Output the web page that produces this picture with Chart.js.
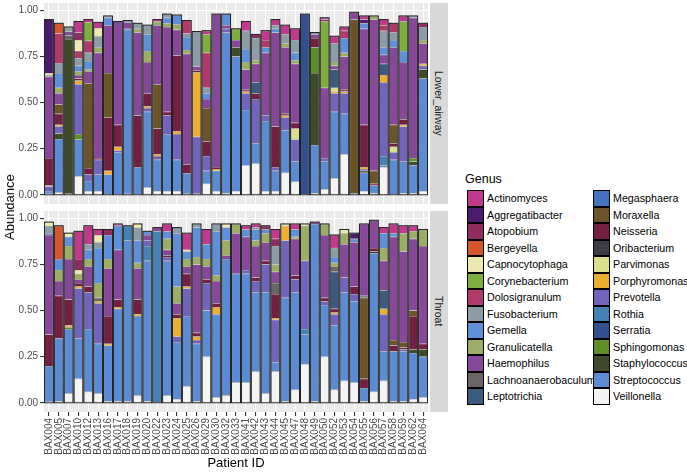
<!DOCTYPE html>
<html>
<head>
<meta charset="utf-8">
<script src="https://cdn.jsdelivr.net/npm/chart.js@4.4.1/dist/chart.umd.min.js"></script>
<style>
  body { margin: 0; width: 687px; height: 474px; background: #fff; position: relative; overflow: hidden;
         font-family: "Liberation Sans", Arial, sans-serif; }
  .box { position: absolute; }
  .strip { position: absolute; left: 430px; width: 18px; background: #D9D9D9; writing-mode: vertical-rl;
           display: flex; align-items: center; justify-content: center; font-size: 10.5px; color: #1A1A1A; }
  .ytitle { position: absolute; left: 2px; top: 3px; width: 16px; height: 409px; writing-mode: vertical-rl;
            transform: rotate(180deg); display: flex; align-items: center; justify-content: center;
            font-size: 13px; color: #000; }
  .xtitle { position: absolute; left: 44px; width: 384px; top: 455px; text-align: center; font-size: 13px; color: #000; }
  .legend-title { position: absolute; left: 465px; top: 172px; font-size: 12.5px; color: #000; }
  .key { position: absolute; width: 17px; height: 16.5px; box-sizing: border-box; border: 1.3px solid #000; }
  .lab { position: absolute; font-size: 10.7px; color: #000; line-height: 16.5px; white-space: nowrap; }
</style>
</head>
<body>
<div class="box" style="left:0;top:0"><canvas id="laChart" width="428" height="205"></canvas></div>
<div class="box" style="left:0;top:207px"><canvas id="thChart" width="428" height="267"></canvas></div>
<div class="strip" style="top:3px;height:201px">Lower_airway</div>
<div class="strip" style="top:211px;height:201px">Throat</div>
<div class="ytitle">Abundance</div>
<div class="xtitle">Patient ID</div>
<div class="legend-title">Genus</div>
<div id="legend"></div>

<script>
// Patients on the x axis
const patients = ['BAX004', 'BAX005', 'BAX007', 'BAX010', 'BAX012', 'BAX013', 'BAX016', 'BAX017', 'BAX018', 'BAX019',
    'BAX020', 'BAX022', 'BAX023', 'BAX024', 'BAX025', 'BAX026', 'BAX029', 'BAX030', 'BAX032', 'BAX033',
    'BAX041', 'BAX042', 'BAX043', 'BAX044', 'BAX045', 'BAX047', 'BAX048', 'BAX049', 'BAX050', 'BAX052',
    'BAX053', 'BAX054', 'BAX055', 'BAX056', 'BAX057', 'BAX058', 'BAX059', 'BAX062', 'BAX064'];

const genera = ['Actinomyces', 'Aggregatibacter', 'Atopobium', 'Bergeyella', 'Capnocytophaga', 'Corynebacterium',
    'Dolosigranulum', 'Fusobacterium', 'Gemella', 'Granulicatella', 'Haemophilus', 'Lachnoanaerobaculum',
    'Leptotrichia', 'Megasphaera', 'Moraxella', 'Neisseria', 'Oribacterium', 'Parvimonas', 'Porphyromonas',
    'Prevotella', 'Rothia', 'Serratia', 'Sphingomonas', 'Staphylococcus', 'Streptococcus', 'Veillonella'];

const genusColors = ['#C2388D', '#4B1C6B', '#8E2C5F', '#D4562A', '#EDE9B0', '#80AE3E',
    '#B23A6A', '#8C9DA8', '#5E8FD8', '#9CAE66', '#87489A', '#6B6468',
    '#3C5A7D', '#4474C0', '#6A5428', '#731F42', '#3D3A47', '#D9DF8A', '#EDAE34',
    '#7064BD', '#4482B5', '#33508E', '#5F8E26', '#3F4A2B', '#5B8BD2', '#F4F4F4'];

const yTickValues = [0, 0.125, 0.25, 0.375, 0.5, 0.625, 0.75, 0.875, 1];

// genus absent from a panel
const absent = [0,0,0,0,0,0,0,0,0,0, 0,0,0,0,0,0,0,0,0,0, 0,0,0,0,0,0,0,0,0,0, 0,0,0,0,0,0,0,0,0];

// ---- Lower_airway abundances (one value per patient) ----
const laActinomyces = [0,0,0,.06,.015,.03,0,0,0,0, 0,.01,0,0,0,0,.02,0,0,0, .05,0,.05,.03,.05,.06,0,0,.01,.04, .02,0,.02,0,.03,0,.03,0,0];
const laAggregatibacter = [.29,0,0,0,0,0,0,0,0,0, 0,0,0,0,0,0,0,0,0,0, 0,0,0,0,0,0,0,0,0,0, 0,0,.02,0,0,0,0,0,0];
const laAtopobium = [0,0,0,.04,0,0,0,0,0,0, 0,0,0,0,0,0,0,0,0,0, 0,.02,0,0,0,0,0,0,.01,0, 0,0,0,0,0,0,0,0,.02];
const laBergeyella = [0,.055,0,0,0,0,0,0,0,0, 0,0,0,0,0,0,0,0,0,0, 0,0,0,0,0,0,0,0,0,0, 0,0,0,0,0,0,0,0,0];
const laCapnocytophaga = [.01,0,0,.06,0,.045,0,0,0,0, 0,0,0,0,0,0,0,0,0,0, 0,0,0,0,0,0,0,0,0,0, 0,0,0,0,0,0,0,0,0];
const laCorynebacterium = [0,0,0,0,.10,0,0,0,0,0, 0,0,0,0,0,0,.10,0,0,.06, 0,0,0,0,0,0,0,0,.36,0, 0,0,0,0,0,0,.16,0,0];
const laDolosigranulum = [0,.16,0,.04,.065,0,0,0,0,0, 0,0,0,0,.07,0,.19,0,0,0, 0,0,.04,0,0,0,0,0,0,0, .04,0,0,0,.03,.05,0,0,0];
const laFusobacterium = [.01,.055,.025,.04,.045,.06,.01,0,.01,.03, .05,0,.02,0,.02,.19,.03,0,0,0, .10,.12,0,.02,.05,.07,0,.01,0,.10, 0,0,0,0,.09,.04,0,.01,.07];
const laGemella = [0,.08,0,.03,.045,0,.04,0,0,0, .09,0,.03,.05,.07,0,.03,0,.06,0, .07,0,.03,.02,0,.04,0,0,0,0, .08,0,.03,0,.04,.04,.06,0,0];
const laGranulicatella = [0,.03,0,.02,.01,.03,0,0,0,.02, .06,.02,.02,.03,.02,0,0,0,0,0, .04,.02,0,0,.02,.02,0,0,0,.02, .02,0,0,.02,0,0,0,0,.02];
const laHaemophilus = [.44,.06,.02,.02,.065,.57,.26,.56,.03,.45, .17,.32,.46,.14,.60,.02,.05,.83,.02,.04, .11,.10,.34,.51,.36,.32,0,.02,.38,.02, .18,.04,.52,.82,.05,.42,.31,.76,.11];
const laLachnoanaerobaculum = [0,0,.02,0,0,0,0,0,0,0, 0,0,0,0,0,0,0,0,0,0, 0,0,0,0,0,0,0,0,0,0, 0,0,0,0,0,0,0,0,0];
const laLeptotrichia = [0,0,0,0,0,0,0,0,0,0, 0,0,0,0,0,0,0,0,0,0, 0,.06,0,0,0,0,0,0,0,.10, 0,0,0,0,.06,0,0,0,0];
const laMoraxella = [0,.05,0,0,.46,0,.24,0,0,0, 0,.24,0,0,0,0,.18,0,0,0, 0,0,0,0,0,0,0,0,0,0, 0,.94,0,.07,0,.10,0,0,0];
const laNeisseria = [.15,.06,0,.01,.035,.01,.29,.12,0,.28, .07,.14,.02,.41,.05,.01,.08,.01,0,0, .01,.03,0,.22,.01,.03,0,.05,0,0, .01,0,.23,.01,0,.02,.03,0,0];
const laParvimonas = [0,0,0,0,0,0,0,0,0,0, 0,0,0,0,0,0,0,0,0,0, 0,0,0,0,0,.06,0,0,0,.02, 0,0,0,0,0,.03,0,0,0];
const laPorphyromonas = [.005,.008,0,.02,0,0,.02,.02,0,0, .01,.01,0,.015,0,.35,0,.01,0,0, .01,0,0,0,.01,0,0,0,0,.01, .01,0,.01,0,.04,0,.01,0,.01];
const laPrevotella = [.025,.04,0,.27,.035,.08,0,.01,.01,0, .02,.02,.10,.14,0,.31,.08,0,.02,0, .09,.24,.03,.02,.07,.12,0,0,.02,.10, .11,.005,.01,0,.40,.04,.19,0,.02];
const laRothia = [0,0,0,0,0,0,0,0,0,0, 0,0,0,0,0,0,0,0,0,0, 0,0,0,0,0,0,0,0,0,0, 0,0,0,0,.05,0,0,0,0];
const laSerratia = [0,0,0,0,0,0,0,0,0,0, 0,0,0,0,0,0,0,0,0,0, 0,0,0,0,0,0,.98,0,0,0, 0,0,0,0,0,0,0,0,0];
const laSphingomonas = [0,0,0,.03,0,0,0,0,0,0, 0,0,0,0,0,0,0,0,0,0, 0,0,0,0,0,0,0,.14,0,0, 0,0,0,0,0,0,0,.02,0];
const laStaphylococcus = [0,.03,.84,0,0,0,0,0,0,0, 0,0,0,0,0,0,0,0,0,.05, 0,0,0,0,0,0,0,.39,0,0, 0,0,.01,0,0,0,0,.02,.05];
const laStreptococcus = [.015,.29,0,.20,.055,.09,.11,.23,.89,.15, .41,.17,.31,.17,.11,0,.07,.11,.87,.73, .30,.11,.38,.11,.23,.11,0,.26,.15,.36, .22,.005,.10,.04,.01,.19,.17,.15,.61];
const laVeillonella = [.005,.012,.005,.10,.02,.02,0,0,.005,0, .04,.02,.02,.02,.005,.005,.06,.02,.01,.02, .16,.17,.02,.02,.12,.07,0,.01,.03,.09, .22,0,.02,.01,.15,0,.01,.01,.02];

// ---- Throat abundances ----
const thActinomyces = [0,0,0,.15,.10,.03,0,.01,0,0, 0,0,.04,0,.09,0,.08,0,0,0, .02,.02,0,.05,0,.03,0,0,0,.07, 0,0,0,0,.03,.05,.04,.03,0];
const thAggregatibacter = [0,0,0,0,0,0,0,0,0,0, 0,0,0,0,0,0,0,0,0,0, 0,0,0,0,0,0,0,0,0,0, 0,.03,0,0,0,0,0,0,0];
const thAtopobium = [0,0,0,.06,0,0,.03,0,0,0, 0,0,0,0,0,0,0,0,0,0, 0,0,.02,.04,0,0,0,0,0,0, 0,0,0,0,0,0,0,0,0];
const thBergeyella = [0,.18,0,0,0,0,0,0,0,0, 0,0,0,0,0,0,0,0,0,0, 0,0,0,0,0,0,0,0,0,0, 0,0,0,0,0,0,0,0,0];
const thCapnocytophaga = [.02,0,.02,.02,0,.04,0,0,0,.02, 0,0,0,0,.01,0,0,0,.02,0, 0,0,0,0,.01,0,.01,0,0,0, .02,0,0,0,0,0,0,0,0];
const thFusobacterium = [.04,0,0,0,.03,.03,0,0,0,.07, 0,0,0,.03,0,.02,0,.04,0,0, 0,.01,0,.10,0,0,0,0,0,.05, 0,0,0,0,0,0,0,0,0];
const thGemella = [.01,.06,.05,0,.05,.19,.13,.13,0,.12, .02,0,.04,.29,.04,.16,.08,.24,.07,0, .04,.06,.02,0,0,.04,0,0,0,.03, 0,.02,0,0,.08,.02,0,0,0];
const thGranulicatella = [0,.06,.07,.03,.04,.08,.05,0,0,.03, 0,0,.06,.09,.04,.04,.04,.03,.08,.05, 0,.03,.05,.04,0,.01,.19,0,.06,.02, .06,0,0,0,.07,0,.10,.04,.09];
const thHaemophilus = [.54,.08,.22,.02,.11,0,.26,.27,0,.17, .03,.02,.03,.06,.04,.37,.07,.12,.02,.22, .18,.17,.10,.06,0,.20,0,.01,.34,0, .18,.24,.39,.15,.16,.56,.49,.39,.53];
const thLachnoanaerobaculum = [0,0,0,0,0,.02,0,0,0,0, 0,0,0,0,0,0,0,0,0,0, 0,0,0,.06,0,0,0,0,0,.03, 0,0,.01,0,0,0,0,0,0];
const thLeptotrichia = [0,0,0,0,0,0,0,0,0,0, 0,0,0,0,0,0,0,0,0,0, 0,0,0,0,0,0,0,0,0,.20, 0,0,0,0,.10,0,0,0,0];
const thMoraxella = [0,0,0,0,0,0,0,0,0,0, 0,0,0,0,0,0,0,0,0,0, 0,0,0,0,0,0,0,0,0,0, 0,0,.44,0,0,.03,.03,.03,0];
const thNeisseria = [.17,.23,.14,.02,.03,0,.15,.04,0,.08, 0,0,.01,.02,.07,.02,.02,.02,0,0, 0,.02,.02,.13,0,.02,0,0,.02,.02, 0,.04,.05,.02,0,.03,.01,.18,.03];
const thOribacterium = [0,0,0,0,0,0,0,0,0,0, 0,0,0,0,0,0,0,0,0,0, 0,0,0,0,0,0,0,0,0,0, 0,0,0,.01,0,0,0,0,0];
const thPorphyromonas = [0,0,.01,.01,0,.01,.01,.01,0,.01, 0,0,0,.10,.01,.02,0,.04,0,0, 0,0,0,.01,.08,0,0,0,0,.01, 0,0,0,0,.03,0,0,0,0];
const thPrevotella = [0,0,0,.27,.20,.22,0,0,0,0, .03,0,.02,.03,.15,.02,.15,0,0,0, .02,.06,.15,.23,.31,.07,.37,0,.02,.06, .08,.04,0,0,.20,0,.01,0,0];
const thRothia = [0,0,0,0,0,0,0,0,.08,0, .08,.93,0,0,0,0,0,0,0,0, 0,0,0,0,0,0,.03,0,0,0, 0,0,0,0,0,0,0,0,0];
const thSphingomonas = [0,0,.01,0,0,0,0,0,0,0, 0,0,0,0,0,0,0,0,0,0, 0,0,0,0,0,0,0,0,0,0, 0,0,0,0,0,0,0,0,0];
const thStaphylococcus = [0,0,0,0,0,0,0,0,0,0, 0,0,0,0,0,0,0,0,0,0, 0,0,0,0,0,0,0,0,0,0, 0,0,0,0,0,0,0,.02,.04];
const thStreptococcus = [.195,.34,.35,.22,.34,.27,.30,.50,.87,.43, .76,0,.73,.31,.38,.31,.25,.45,.74,.59, .59,.43,.55,.05,.56,.53,.16,.96,.28,.35, .48,.44,.07,.75,.16,.27,.27,.25,.22];
const thVeillonella = [.005,.01,.05,.13,.06,.05,.01,.01,.01,.04, .01,0,.04,.02,.09,.01,.25,.03,.04,.11, .11,.17,.05,.17,.01,.07,.21,.01,.25,.07, .12,.11,.01,.06,.12,.01,.01,.02,.03];

const lowerAirway = {
    Actinomyces: laActinomyces, Aggregatibacter: laAggregatibacter, Atopobium: laAtopobium, Bergeyella: laBergeyella,
    Capnocytophaga: laCapnocytophaga, Corynebacterium: laCorynebacterium, Dolosigranulum: laDolosigranulum,
    Fusobacterium: laFusobacterium, Gemella: laGemella, Granulicatella: laGranulicatella, Haemophilus: laHaemophilus,
    Lachnoanaerobaculum: laLachnoanaerobaculum, Leptotrichia: laLeptotrichia, Megasphaera: absent,
    Moraxella: laMoraxella, Neisseria: laNeisseria, Oribacterium: absent, Parvimonas: laParvimonas,
    Porphyromonas: laPorphyromonas, Prevotella: laPrevotella, Rothia: laRothia, Serratia: laSerratia,
    Sphingomonas: laSphingomonas, Staphylococcus: laStaphylococcus, Streptococcus: laStreptococcus,
    Veillonella: laVeillonella
};
const throat = {
    Actinomyces: thActinomyces, Aggregatibacter: thAggregatibacter, Atopobium: thAtopobium, Bergeyella: thBergeyella,
    Capnocytophaga: thCapnocytophaga, Corynebacterium: absent, Dolosigranulum: absent,
    Fusobacterium: thFusobacterium, Gemella: thGemella, Granulicatella: thGranulicatella, Haemophilus: thHaemophilus,
    Lachnoanaerobaculum: thLachnoanaerobaculum, Leptotrichia: thLeptotrichia, Megasphaera: absent,
    Moraxella: thMoraxella, Neisseria: thNeisseria, Oribacterium: thOribacterium, Parvimonas: absent,
    Porphyromonas: thPorphyromonas, Prevotella: thPrevotella, Rothia: thRothia, Serratia: absent,
    Sphingomonas: thSphingomonas, Staphylococcus: thStaphylococcus, Streptococcus: thStreptococcus,
    Veillonella: thVeillonella
};

const FONT = '"Liberation Sans", Arial, sans-serif';

// gray panel behind the grid
const panelBg = {
    id: 'panelBg',
    beforeDraw(chart) {
        const { ctx, chartArea: a } = chart;
        ctx.save();
        ctx.fillStyle = '#EBEBEB';
        ctx.fillRect(a.left, a.top, a.right - a.left, a.bottom - a.top);
        ctx.restore();
    }
};

// black outline round each whole bar
const barOutline = {
    id: 'barOutline',
    afterDatasetsDraw(chart, args, opts) {
        const { ctx, scales: { x, y } } = chart;
        const step = x.getPixelForValue(1) - x.getPixelForValue(0);
        ctx.save();
        ctx.strokeStyle = '#111';
        ctx.lineWidth = 0.9;
        patients.forEach((p, i) => {
            let total = 0;
            genera.forEach(g => { total += opts.table[g][i]; });
            const cx = x.getPixelForValue(i);
            const top = y.getPixelForValue(total);
            const bottom = y.getPixelForValue(0);
            ctx.strokeRect(cx - step * 0.45, top, step * 0.9, bottom - top);
        });
        ctx.restore();
    }
};

function makeChart(canvasId, table, showX) {
    const stackOrder = genera.slice().reverse();   // first level ends up on top
    const datasets = stackOrder.map(g => ({
        label: g,
        data: table[g].map(v => (v > 0 ? v : null)),
        backgroundColor: genusColors[genera.indexOf(g)],
        borderColor: 'rgba(20,20,20,0.55)',
        borderWidth: 0.5,
        barPercentage: 0.9,
        categoryPercentage: 1.0
    }));

    return new Chart(document.getElementById(canvasId), {
        type: 'bar',
        data: { labels: patients, datasets },
        plugins: [panelBg, barOutline],
        options: {
            responsive: false,
            animation: false,
            layout: { padding: { top: showX ? 4 : 3, bottom: showX ? 0 : 1, left: 0, right: 0 } },
            plugins: {
                legend: { display: false },
                tooltip: { enabled: false },
                barOutline: { table }
            },
            scales: {
                x: {
                    stacked: true,
                    offset: true,
                    border: { display: false },
                    grid: { offset: false, color: '#FFFFFF', lineWidth: 1.1, drawTicks: showX, tickLength: 4, tickColor: '#333333' },
                    ticks: {
                        display: showX, autoSkip: false, maxRotation: 90, minRotation: 90, padding: 2,
                        color: '#4D4D4D', font: { family: FONT, size: 10 }
                    },
                    afterFit(scale) {
                        scale.height = showX ? 62 : 0;
                        scale.paddingLeft = 0;
                        scale.paddingRight = 0;
                    }
                },
                y: {
                    stacked: true,
                    min: -0.05,
                    max: 1.04,
                    border: { display: false },
                    afterBuildTicks(scale) { scale.ticks = yTickValues.map(v => ({ value: v })); },
                    grid: {
                        color: '#FFFFFF',
                        lineWidth: c => (c.tick && c.tick.value % 0.25 === 0 ? 1.1 : 0.5),
                        tickLength: 4,
                        tickColor: c => (c.tick && c.tick.value % 0.25 === 0 ? '#333333' : 'rgba(0,0,0,0)')
                    },
                    ticks: {
                        padding: 2, color: '#4D4D4D', font: { family: FONT, size: 10 },
                        callback: v => (v % 0.25 === 0 ? v.toFixed(2) : '')
                    },
                    afterFit(scale) {
                        scale.width = 44;
                        scale.paddingTop = 0;
                        scale.paddingBottom = 0;
                    }
                }
            }
        }
    });
}

makeChart('laChart', lowerAirway, false);
makeChart('thChart', throat, true);

// legend, two columns of 13
const legend = document.getElementById('legend');
genera.forEach((g, i) => {
    const col = Math.floor(i / 13);
    const row = i % 13;
    const top = 190 + row * 16.5;
    const keyX = col === 0 ? 467 : 593;
    const key = document.createElement('div');
    key.className = 'key';
    key.style.left = keyX + 'px';
    key.style.top = top + 'px';
    key.style.background = genusColors[i];
    legend.appendChild(key);
    const lab = document.createElement('div');
    lab.className = 'lab';
    lab.style.left = (keyX + 20) + 'px';
    lab.style.top = top + 'px';
    lab.textContent = g;
    legend.appendChild(lab);
});
</script>
</body>
</html>
